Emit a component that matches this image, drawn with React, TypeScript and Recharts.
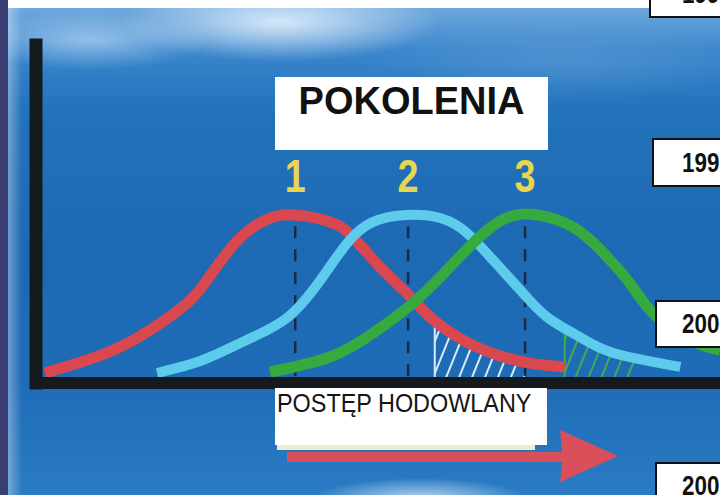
import { Area, ComposedChart, Line, ReferenceLine, XAxis, YAxis } from "recharts";

// curve values: x = breeding progress (0-100), y = frequency (peak = 100)
const redCurve: [number, number][] = [
  [1.3, 5.9], [7.5, 13.6], [12.3, 21.3], [17.1, 32.5], [22.1, 47.3], [25.0, 60.9], [27.9, 76.9],
  [30.8, 89.3], [34.2, 97.6], [37.9, 99.4], [43.0, 95.3], [46.3, 86.4], [50.3, 68.6], [54.2, 53.3],
  [57.6, 39.1], [62.4, 25.4], [67.4, 16.6], [72.2, 11.8], [77.3, 9.5],
];
const cyanCurve: [number, number][] = [
  [17.7, 5.9], [24.4, 13.6], [30.8, 25.4], [36.7, 38.5], [41.5, 60.4], [45.5, 82.8], [49.3, 95.3],
  [54.2, 99.4], [59.1, 97.6], [63.0, 88.8], [66.8, 72.8], [70.8, 55.0], [74.7, 39.1], [79.5, 27.2],
  [84.4, 17.8], [94.2, 9.5],
];
const greenCurve: [number, number][] = [
  [34.2, 6.5], [43.0, 15.4], [49.3, 29.6], [55.1, 47.3], [60.1, 66.9], [63.9, 82.8], [67.4, 94.7],
  [71.8, 100], [78.5, 92.3], [83.5, 74.6], [86.8, 59.2], [90.2, 41.4], [95.6, 25.4], [100, 19.5],
];
// hatched tails
const cyanHatch: [number, number][] = [[58.3, 37.3], [62.4, 25.4], [67.4, 16.6], [71.5, 11.8]];
const greenHatch: [number, number][] = [[77.3, 31.4], [79.5, 27.2], [84.4, 17.8], [88.3, 12.4]];

const generations = ["1", "2", "3"];
const generationX = [37.9, 54.4, 71.5];
const years = ["1990", "1995", "2000", "2005"];

const toRows = (pts: [number, number][]) => pts.map(([x, y]) => ({ x, y }));

const SANS = "'Liberation Sans', Arial, sans-serif";

const genLabel = (text: string) => (props: any) => {
  const vb = props.viewBox || {};
  return (
    <text
      transform={`translate(${vb.x}, ${vb.y - 30}) scale(0.82, 1)`}
      textAnchor="middle"
      fill="#e8d64e"
      fontFamily={SANS}
      fontWeight="bold"
      fontSize={46}
    >
      {text}
    </text>
  );
};

const yearBoxes = [
  { top: -30, left: 649, height: 48 },
  { top: 138, left: 652, height: 49 },
  { top: 300, left: 655, height: 48 },
  { top: 462, left: 655, height: 48 },
];

export default function App() {
  return (
    <div
      style={{
        position: "absolute",
        left: 0,
        top: 0,
        width: 720,
        height: 495,
        overflow: "hidden",
        background:
          "radial-gradient(ellipse 160px 40px at 280px 22px, rgba(235,245,255,0.85), rgba(235,245,255,0) 100%)," +
          "radial-gradient(ellipse 120px 30px at 90px 40px, rgba(200,225,250,0.6), rgba(200,225,250,0) 100%)," +
          "radial-gradient(ellipse 110px 22px at 420px 500px, rgba(230,242,255,0.8), rgba(230,242,255,0) 100%)," +
          "radial-gradient(ellipse 200px 40px at 560px 60px, rgba(120,170,220,0.35), rgba(120,170,220,0) 100%)," +
          "linear-gradient(to bottom, #6ea8dc 8px, #3a86cc 50px, #2273bb 110px, #1d69b4 250px, #1e6bb6 380px, #2a7cc4 495px)",
      }}
    >
      <div style={{ position: "absolute", left: 0, top: 0, width: 8, height: 495, background: "#3b3e72" }} />
      <div
        style={{
          position: "absolute",
          left: 8,
          top: 0,
          width: 14,
          height: 495,
          background: "linear-gradient(to right, rgba(255,255,255,0.35), rgba(255,255,255,0))",
        }}
      />
      <div style={{ position: "absolute", left: 8, top: 0, width: 645, height: 8, background: "#ffffff" }} />

      <div style={{ position: "absolute", left: 0, top: 0 }}>
        <ComposedChart width={720} height={495} margin={{ top: 45, right: 0, bottom: 112, left: 36 }}>
          <defs>
            <pattern id="hatchCyan" patternUnits="userSpaceOnUse" width={12} height={12} patternTransform="rotate(22)">
              <line x1={3} y1={0} x2={3} y2={12} stroke="#d6ecf8" strokeWidth={2} />
            </pattern>
            <pattern id="hatchGreen" patternUnits="userSpaceOnUse" width={12} height={12} patternTransform="rotate(22)">
              <line x1={3} y1={0} x2={3} y2={12} stroke="#3fae4a" strokeWidth={2} />
            </pattern>
          </defs>
          <XAxis type="number" dataKey="x" domain={[0, 100]} height={0} tick={false} tickLine={false} axisLine={false} />
          <YAxis type="number" domain={[0, 200]} width={0} tick={false} tickLine={false} axisLine={false} />
          <Area
            data={toRows(cyanHatch)}
            dataKey="y"
            type="monotone"
            stroke="none"
            fill="url(#hatchCyan)"
            fillOpacity={1}
            isAnimationActive={false}
          />
          <Area
            data={toRows(greenHatch)}
            dataKey="y"
            type="monotone"
            stroke="none"
            fill="url(#hatchGreen)"
            fillOpacity={1}
            isAnimationActive={false}
          />
          <ReferenceLine segment={[{ x: 58.3, y: 0 }, { x: 58.3, y: 37 }]} stroke="#d6ecf8" strokeWidth={2} />
          <ReferenceLine segment={[{ x: 77.3, y: 0 }, { x: 77.3, y: 30 }]} stroke="#3fae4a" strokeWidth={2} />
          {generationX.map((gx, i) => (
            <ReferenceLine
              key={gx}
              segment={[{ x: gx, y: 4 }, { x: gx, y: 95 }]}
              stroke="#1b2a44"
              strokeWidth={2.5}
              strokeDasharray="12 11"
              label={genLabel(generations[i])}
            />
          ))}
          <Line data={toRows(redCurve)} dataKey="y" type="natural" stroke="#d9484f" strokeWidth={11} dot={false} isAnimationActive={false} />
          <Line data={toRows(cyanCurve)} dataKey="y" type="natural" stroke="#5ccbec" strokeWidth={10} dot={false} isAnimationActive={false} />
          <Line data={toRows(greenCurve)} dataKey="y" type="natural" stroke="#34aa3f" strokeWidth={11} dot={false} isAnimationActive={false} />
          {/* axes */}
          <ReferenceLine x={0} stroke="#151a1f" strokeWidth={13} strokeLinecap="square" ifOverflow="visible" />
          <ReferenceLine y={0} stroke="#151a1f" strokeWidth={12} ifOverflow="visible" />
        </ComposedChart>
      </div>

      {/* title box */}
      <div
        style={{
          position: "absolute",
          left: 275,
          top: 77,
          width: 273,
          height: 73,
          background: "#ffffff",
          fontFamily: SANS,
          fontWeight: "bold",
          fontSize: 38,
          color: "#111",
          textAlign: "center",
          lineHeight: "44px",
          paddingTop: 2,
          boxSizing: "border-box",
        }}
      >
        POKOLENIA
      </div>

      {/* x-axis caption + arrow */}
      <div style={{ position: "absolute", left: 277, top: 445, width: 258, height: 5, background: "#f1ecc8" }} />
      <div
        style={{
          position: "absolute",
          left: 275,
          top: 388,
          width: 272,
          height: 57,
          background: "#ffffff",
          fontFamily: SANS,
          fontSize: 26,
          color: "#151515",
          lineHeight: "30px",
          paddingLeft: 2,
          boxSizing: "border-box",
          whiteSpace: "nowrap",
        }}
      >
        <span style={{ display: "inline-block", transform: "scale(0.9, 1)", transformOrigin: "left center" }}>
          POSTĘP HODOWLANY
        </span>
      </div>
      <svg style={{ position: "absolute", left: 0, top: 0 }} width={720} height={495}>
        <polygon points="287,452 562,452 560,430 618,456 560,482 562,462 287,462" fill="#d9505a" />
      </svg>

      {/* year boxes on the right */}
      {yearBoxes.map((b, i) => (
        <div
          key={years[i]}
          style={{
            position: "absolute",
            left: b.left,
            top: b.top,
            width: 120,
            height: b.height,
            background: "#ffffff",
            border: "2px solid #111",
            boxSizing: "border-box",
            fontFamily: SANS,
            fontWeight: "bold",
            fontSize: 28,
            color: "#111",
            lineHeight: `${b.height - 4}px`,
            paddingLeft: 680 - b.left,
            whiteSpace: "nowrap",
          }}
        >
          <span style={{ display: "inline-block", transform: "scale(0.8, 1)", transformOrigin: "left center" }}>
            {years[i]}
          </span>
        </div>
      ))}
    </div>
  );
}
